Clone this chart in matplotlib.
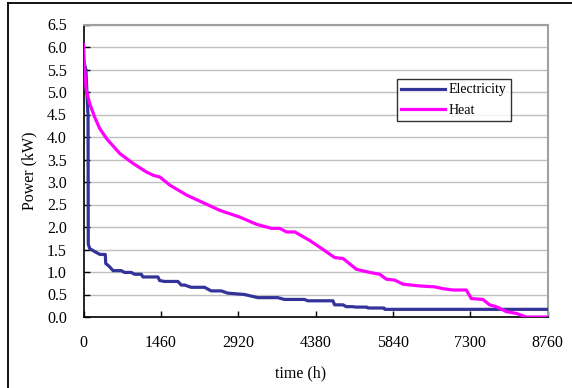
import matplotlib
matplotlib.use("Agg")
import matplotlib.pyplot as plt
from matplotlib.lines import Line2D

# ---- data (hours, kW) ----
elec_hours = [0, 45, 80, 86, 90, 117, 217, 311, 411, 420, 490, 535, 560, 713, 777, 902,
              965, 1090, 1122, 1405, 1437, 1531, 1782, 1845, 1908, 2033, 2285, 2410,
              2599, 2725, 3040, 3291, 3668, 3794, 4171, 4234, 4710, 4740, 4900, 4960,
              5080, 5140, 5350, 5370, 5670, 5690, 8760]
elec_kw = [5.70, 5.50, 4.60, 4.50, 1.62, 1.52, 1.45, 1.39, 1.39, 1.19, 1.12, 1.06, 1.03, 1.03,
           0.99, 0.99, 0.95, 0.95, 0.89, 0.89, 0.81, 0.79, 0.79, 0.71, 0.71, 0.66, 0.66,
           0.58, 0.58, 0.53, 0.50, 0.43, 0.43, 0.39, 0.39, 0.36, 0.36, 0.27, 0.27, 0.23,
           0.23, 0.22, 0.22, 0.20, 0.20, 0.17, 0.17]

heat_hours = [0, 22, 53, 117, 211, 306, 438, 688, 939, 1192, 1316, 1443, 1631, 1946, 2259,
              2574, 2952, 3267, 3549, 3706, 3832, 3989, 4272, 4523, 4743, 4900, 5153, 5404,
              5593, 5718, 5875, 6031, 6346, 6629, 6786, 6974, 7227, 7321, 7540, 7666, 7793,
              7981, 8170, 8359, 8760]
heat_kw = [6.06, 5.48, 5.04, 4.74, 4.44, 4.19, 3.96, 3.63, 3.41, 3.22, 3.15, 3.11, 2.93, 2.71,
           2.54, 2.37, 2.22, 2.06, 1.97, 1.97, 1.89, 1.89, 1.70, 1.50, 1.32, 1.30, 1.06, 0.99,
           0.95, 0.84, 0.82, 0.73, 0.69, 0.67, 0.63, 0.60, 0.60, 0.41, 0.39, 0.27, 0.23,
           0.12, 0.08, 0.00, 0.00]

x_ticks = [0, 1460, 2920, 4380, 5840, 7300, 8760]
y_ticks = [0.0, 0.5, 1.0, 1.5, 2.0, 2.5, 3.0, 3.5, 4.0, 4.5, 5.0, 5.5, 6.0, 6.5]

plt.rcParams['font.family'] = ['Liberation Serif', 'DejaVu Serif']

W, H = 572, 388
fig = plt.figure(figsize=(W / 100, H / 100), dpi=100)
ax = fig.add_axes([83.5 / W, 1 - 317 / H, (547.5 - 83.5) / W, (317 - 24.5) / H])

ax.plot(elec_hours, elec_kw, color='#333399', lw=2.3, label='Electricity', zorder=3)
ax.plot(heat_hours, heat_kw, color='#FF00FF', lw=2.3, label='Heat', zorder=4)

ax.set_xlim(0, 8760)
ax.set_ylim(0, 6.5)
ax.set_xticks(x_ticks)
ax.set_xticklabels([str(t) for t in x_ticks])
ax.set_yticks(y_ticks)
ax.set_yticklabels([f"{t:.1f}" for t in y_ticks])
ax.tick_params(axis='both', direction='in', length=4, width=1, colors='black', labelsize=11.5)
ax.tick_params(axis='y', pad=12)
ax.tick_params(axis='x', pad=13)

ax.grid(axis='y', color='#C0C0C0', lw=1)
ax.set_axisbelow(True)
for s in ['top', 'right']:
    ax.spines[s].set_color('#A0A0A0')
    ax.spines[s].set_linewidth(1.5)
for s in ['left', 'bottom']:
    ax.spines[s].set_color('black')
    ax.spines[s].set_linewidth(1.2)

ax.set_xlabel('time (h)', fontsize=11.5)
ax.set_ylabel('Power (kW)', fontsize=11.5)
ax.xaxis.set_label_coords((301 - 83.5) / 464, (317 - 373) / 292.5)
ax.yaxis.set_label_coords((29 - 83.5) / 464, 0.5)
ax.xaxis.label.set_va('center')
ax.yaxis.label.set_va('center')

leg = ax.legend(loc='upper left', bbox_to_anchor=((396.7 - 83.5) / 464, 1 - (79.3 - 24.5) / 292.5),
                fontsize=10, frameon=True, fancybox=False, handlelength=3.2,
                handletextpad=0.25, borderpad=0.3, labelspacing=0.55, borderaxespad=0)
leg.get_frame().set_edgecolor('black')
leg.get_frame().set_linewidth(1.0)

# outer border (top and left)
fig.add_artist(Line2D([7.5 / W, 1], [1 - 3 / H, 1 - 3 / H], color='black', lw=1.3,
                      transform=fig.transFigure))
fig.add_artist(Line2D([7.5 / W, 7.5 / W], [0, 1 - 3 / H], color='black', lw=1.3,
                      transform=fig.transFigure))

fig.savefig('out.png', dpi=100)
